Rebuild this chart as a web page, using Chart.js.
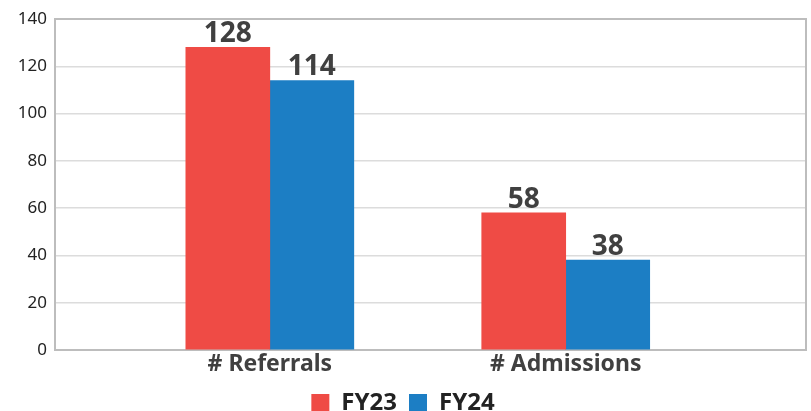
<!DOCTYPE html>
<html><head><meta charset="utf-8">
<script src="https://cdn.jsdelivr.net/npm/chart.js@4/dist/chart.umd.min.js"></script>
<style>html,body{margin:0;padding:0;background:#fff}#wrap{width:811px;height:411px}</style>
</head><body><div id="wrap"><canvas id="c" width="811" height="411"></canvas></div>
<script>
const categories = ['# Referrals', '# Admissions'];
const seriesNames = ['FY23', 'FY24'];
const fy23 = [128, 58];
const fy24 = [114, 38];
const yTicks = [0, 20, 40, 60, 80, 100, 120, 140];
const colors = ['#ef4b45', '#1c7ec4'];

const pos = categories.map((_, i) => i + 1);
const FONT = "'Noto Sans', 'Open Sans', sans-serif";

const borderPlugin = {
  id: 'borderBox',
  beforeLayout(chart) {
    const lg = chart.legend;
    if (lg && !lg._fitPatched) {
      const f = lg.fit;
      lg.fit = function () { f.call(this); this.height = 32; };
      lg._fitPatched = true;
    }
  },
  beforeDatasetsDraw(chart) {
    const a = chart.chartArea, ctx = chart.ctx;
    ctx.save();
    ctx.strokeStyle = '#bdbdbd';
    ctx.lineWidth = 2;
    ctx.strokeRect(a.left, a.top, a.right - a.left, a.bottom - a.top);
    ctx.restore();
  }
};
const labelPlugin = {
  id: 'valLabels',
  afterDatasetsDraw(chart) {
    const ctx = chart.ctx;
    ctx.save();
    ctx.font = "bold 28px " + FONT;
    ctx.fillStyle = '#404040';
    ctx.textAlign = 'center';
    ctx.textBaseline = 'alphabetic';
    chart.data.datasets.forEach((ds, di) => {
      chart.getDatasetMeta(di).data.forEach((bar, i) => {
        ctx.fillText(String(ds.data[i].y), bar.x, bar.y - 5);
      });
    });
    ctx.restore();
  }
};

new Chart(document.getElementById('c'), {
  type: 'bar',
  data: {
    datasets: [
      { label: seriesNames[0], data: pos.map((x, i) => ({ x, y: fy23[i] })), backgroundColor: colors[0] },
      { label: seriesNames[1], data: pos.map((x, i) => ({ x, y: fy24[i] })), backgroundColor: colors[1] }
    ]
  },
  options: {
    responsive: false,
    animation: false,
    devicePixelRatio: 1,
    barThickness: 84,
    layout: { padding: { left: 0, top: 19, right: 5, bottom: 0 } },
    plugins: {
      legend: {
        position: 'bottom',
        labels: { boxWidth: 18, boxHeight: 18, padding: 12, color: '#222', font: { family: FONT, size: 24, weight: 'bold', lineHeight: 1 } }
      },
      tooltip: { enabled: false }
    },
    scales: {
      x: {
        type: 'linear',
        offset: false,
        min: 0.274,
        max: 2.812,
        afterBuildTicks: s => { s.ticks = pos.map(v => ({ value: v })); },
        ticks: {
          autoSkip: false,
          maxRotation: 0,
          padding: 3,
          color: '#404040',
          font: { family: FONT, size: 23, weight: 'bold', lineHeight: 1 },
          callback: v => categories[v - 1] || ''
        },
        grid: { display: false, drawTicks: false },
        border: { display: false }
      },
      y: {
        min: 0,
        max: 140,
        afterBuildTicks: s => { s.ticks = yTicks.map(v => ({ value: v })); },
        afterFit: s => { s.width = 55; },
        ticks: { color: '#222', padding: 8, font: { family: FONT, size: 17 } },
        grid: { color: '#dcdcdc', lineWidth: 1.5, drawTicks: false },
        border: { display: false }
      }
    }
  },
  plugins: [borderPlugin, labelPlugin]
});
</script></body></html>
